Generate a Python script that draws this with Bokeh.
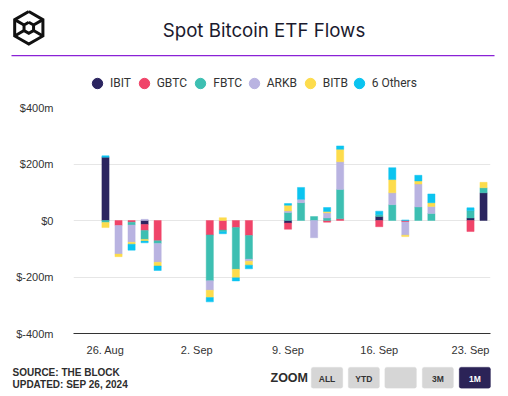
import math
import pandas as pd
from bokeh.plotting import figure
from bokeh.layouts import column
from bokeh.models import (Range1d, FixedTicker, CustomJSTickFormatter, Legend, LegendItem,
                          Label, BoxAnnotation, ColumnDataSource)
from bokeh.embed import file_html
from bokeh.resources import INLINE

# ---------------- data ----------------
dates = ["2024-08-26", "2024-08-27", "2024-08-28", "2024-08-29", "2024-08-30",
         "2024-09-03", "2024-09-04", "2024-09-05", "2024-09-06",
         "2024-09-09", "2024-09-10", "2024-09-11", "2024-09-12", "2024-09-13",
         "2024-09-16", "2024-09-17", "2024-09-18", "2024-09-19", "2024-09-20",
         "2024-09-23", "2024-09-24"]

series_names = ["IBIT", "GBTC", "FBTC", "ARKB", "BITB", "6 Others"]
series_colors = ["#2b2560", "#f04469", "#3dbfb2", "#b9b3e1", "#fddc4c", "#0bc4f0"]

ibit   = [224,    0,   0, -14,   0,    0,   0,    0,   0,  -9,  0,   0,  0,   0,  14,  0,   0,  0,  0,   9, 98]
gbtc   = [  0,  -18,  -6, -21, -72,  -51, -34,  -25, -53, -22,  0,   0, -6,   6, -22,  0,  -5,  0,  0, -39,  0]
fbtc   = [ -7,    0, -10, -32,  -9, -162,  -6, -148, -84,  28, 63,  14,  9, 104,   7, 56,   0, 48, 25,  26, 18]
arkb   = [  0, -101, -61,   4, -67,  -34,   0,    0,  -7,   6, 12, -61, 18,  98,   0, 42, -47, 81, 25,   0,  0]
bitb   = [-18,   -9,  -7,  -6, -13,  -26,  10,  -30, -14,  20,  0,   0,  5,  44,   0, 47,  -5, 11, 13,   0, 19]
others = [  5,    0, -21,  -6, -16,  -15,  -7,  -11, -13,   6, 42,   0, 14,  12,  12, 42,   2, 20, 31,  10,  0]

series_values = [ibit, gbtc, fbtc, arkb, bitb, others]

tick_dates = ["2024-08-26", "2024-09-02", "2024-09-09", "2024-09-16", "2024-09-23"]
tick_labels = ["26. Aug", "2. Sep", "9. Sep", "16. Sep", "23. Sep"]
y_ticks = [-400, -200, 0, 200, 400]

zoom_buttons = ["ALL", "YTD", "", "3M", "1M"]

W = 508
HEAD_H, MAIN_H, FOOT_H = 100, 260, 36

# =============== header figure (page coordinates) ===============
hd = figure(width=W, height=HEAD_H, output_backend="svg", toolbar_location=None,
            x_range=Range1d(0, W), y_range=Range1d(HEAD_H, 0),
            x_axis_location=None, y_axis_location=None, frame_align=False,
            min_border=0, min_border_left=0, min_border_right=0,
            min_border_top=0, min_border_bottom=0)
hd.grid.visible = False
hd.outline_line_color = None

hd.add_layout(Label(x=263.5, y=29.5, text="Spot Bitcoin ETF Flows", text_align="center",
                    text_baseline="middle", text_font="Inter", text_font_size="18.7px",
                    text_color="#1b1a2e"))
hd.add_layout(BoxAnnotation(left=11, right=494, top=54.5, bottom=55.8,
                            fill_color="#8a22d6", fill_alpha=1, line_color=None))

# logo: hexagonal cube mark
cx0, cy0, R, r_in = 28.3, 27.3, 16.3, 5.5
angs = [90, 30, -30, -90, -150, 150]
outer = [(cx0 + R * math.cos(math.radians(a)), cy0 - R * math.sin(math.radians(a))) for a in angs]
inner = [(cx0 + r_in * math.cos(math.radians(a)), cy0 - r_in * math.sin(math.radians(a))) for a in angs]
lx = [[x for x, _ in outer] + [outer[0][0]], [x for x, _ in inner] + [inner[0][0]]]
ly = [[y for _, y in outer] + [outer[0][1]], [y for _, y in inner] + [inner[0][1]]]
for k in [1, 2, 4, 5]:
    lx.append([outer[k][0], inner[k][0]])
    ly.append([outer[k][1], inner[k][1]])
hd.multi_line(xs=lx, ys=ly, line_color="#111111", line_width=3, line_join="miter")

# legend: one single-item legend per series (proxy glyph kept off-range)
G = 26
legend_centers = [97, 143.7, 200.3, 253.7, 309.7, 358.7]
for name, col, cx in zip(series_names, series_colors, legend_centers):
    r = hd.scatter(x=[-1000], y=[-1000], marker="circle", size=10, fill_color=col, line_color=col)
    lg = Legend(items=[LegendItem(label=name, renderers=[r])],
                location=(cx - G / 2, HEAD_H - (83 + G / 2)),
                orientation="horizontal", glyph_width=G, glyph_height=G,
                label_standoff=0, padding=0, margin=0, spacing=0,
                border_line_color=None, background_fill_alpha=0,
                label_text_font="Roboto", label_text_font_size="12px",
                label_text_color="#333333")
    hd.add_layout(lg)

# =============== main chart ===============
xdates = pd.to_datetime(dates)
x_start = pd.Timestamp("2024-08-26") - pd.Timedelta(days=2.455)
x_end = pd.Timestamp("2024-09-23") + pd.Timedelta(days=1.534)

p = figure(width=W, height=MAIN_H, x_axis_type="datetime", output_backend="svg",
           toolbar_location=None, x_range=Range1d(x_start, x_end),
           y_range=Range1d(-400, 400), frame_align=False,
           min_border_left=73, min_border_right=18, min_border_top=7, min_border_bottom=27)
p.outline_line_color = None

bar_w = 0.55 * 86400000
pos_base = [0.0] * len(dates)
neg_base = [0.0] * len(dates)
for name, col, vals in zip(series_names, series_colors, series_values):
    xs, tops, bottoms = [], [], []
    for i, v in enumerate(vals):
        if v > 0:
            xs.append(xdates[i]); bottoms.append(pos_base[i]); tops.append(pos_base[i] + v)
            pos_base[i] += v
        elif v < 0:
            xs.append(xdates[i]); tops.append(neg_base[i]); bottoms.append(neg_base[i] + v)
            neg_base[i] += v
    src = ColumnDataSource(dict(x=xs, top=tops, bottom=bottoms))
    p.vbar(x="x", top="top", bottom="bottom", width=bar_w, source=src,
           fill_color=col, line_color=col, line_alpha=0.45, line_width=1)

tick_ms = [float(t.value // 10**6) for t in pd.to_datetime(tick_dates)]
p.xaxis.ticker = FixedTicker(ticks=tick_ms)
p.xaxis.major_label_overrides = {t: l for t, l in zip(tick_ms, tick_labels)}
p.xaxis.major_tick_line_color = None
p.xaxis.minor_tick_line_color = None
p.xaxis.axis_line_color = "#333333"
p.xaxis.major_label_standoff = 4
p.xaxis.major_label_text_font = "Liberation Sans"
p.xaxis.major_label_text_font_size = "11px"
p.xaxis.major_label_text_color = "#333333"

yt = FixedTicker(ticks=y_ticks)
p.yaxis.ticker = yt
p.yaxis.formatter = CustomJSTickFormatter(code="return tick == 0 ? '$0' : '$' + tick + 'm';")
p.yaxis.axis_line_color = None
p.yaxis.major_tick_line_color = None
p.yaxis.minor_tick_line_color = None
p.yaxis.major_label_standoff = 14
p.yaxis.major_label_text_font = "Liberation Sans"
p.yaxis.major_label_text_font_size = "11px"
p.yaxis.major_label_text_color = "#333333"

p.xgrid.grid_line_color = None
p.ygrid.ticker = yt
p.ygrid.grid_line_color = "#e6e6e6"

# =============== footer (page coordinates, offset 360) ===============
Y0 = HEAD_H + MAIN_H
ft = figure(width=W, height=FOOT_H, output_backend="svg", toolbar_location=None,
            x_range=Range1d(0, W), y_range=Range1d(Y0 + FOOT_H, Y0),
            x_axis_location=None, y_axis_location=None, frame_align=False,
            min_border=0, min_border_left=0, min_border_right=0,
            min_border_top=0, min_border_bottom=0)
ft.grid.visible = False
ft.outline_line_color = None

foot = dict(text_baseline="middle", text_font="Liberation Sans", text_font_style="bold",
            text_color="#2d2d2d")
ft.add_layout(Label(x=12, y=372, text="SOURCE: THE BLOCK", text_font_size="10px", **foot))
ft.add_layout(Label(x=12, y=384, text="UPDATED: SEP 26, 2024", text_font_size="10px", **foot))
ft.add_layout(Label(x=270, y=377, text="ZOOM", text_font_size="12.5px", **foot))

btn_x = [(310.7, 342.3), (347.7, 379), (384.3, 416), (421.7, 453), (458.7, 490)]
for (x0, x1), lab in zip(btn_x, zoom_buttons):
    active = lab == "1M"
    ft.add_layout(BoxAnnotation(left=x0, right=x1, top=366.7, bottom=387.7,
                                fill_color="#2b2357" if active else "#d6d6d6", fill_alpha=1,
                                line_color="#2b2357" if active else "#e2e2e2", line_width=1,
                                border_radius=2))
    if lab:
        ft.add_layout(Label(x=(x0 + x1) / 2, y=378.5, text=lab, text_align="center",
                            text_baseline="middle", text_font="Liberation Sans",
                            text_font_style="bold", text_font_size="8.5px",
                            text_color="white" if active else "#333333"))

layout = column(hd, p, ft, spacing=0)
open("out.html", "w").write(file_html(layout, INLINE))
